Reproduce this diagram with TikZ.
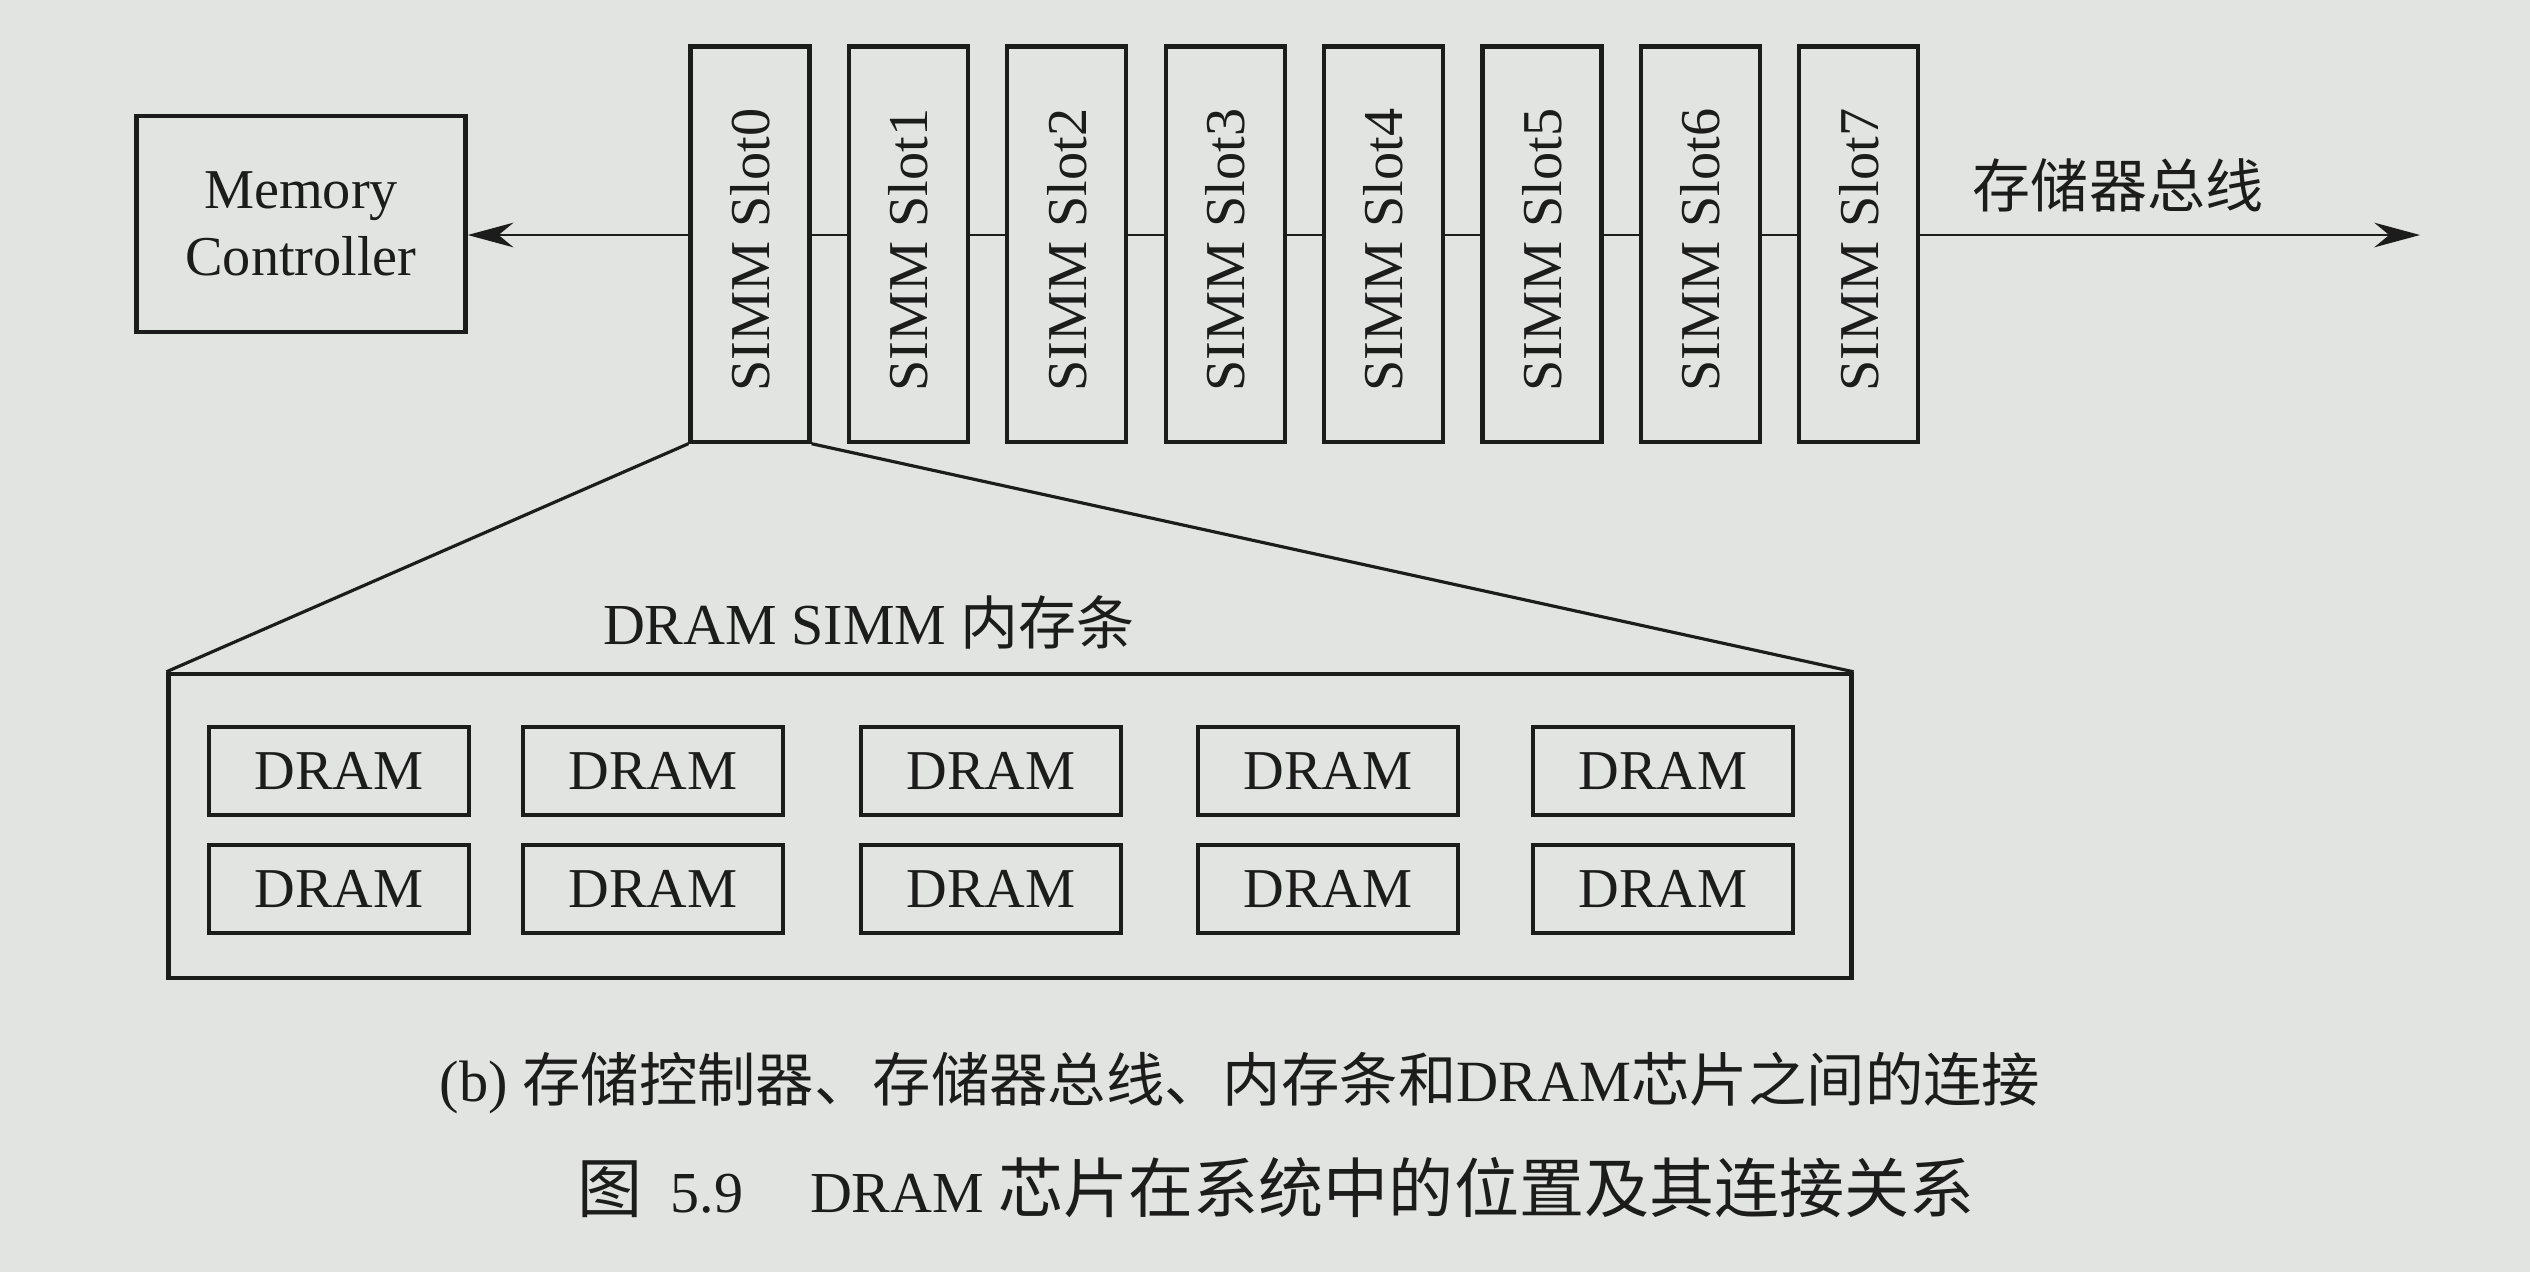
\documentclass[tikz,border=0pt]{standalone}
\usepackage{fontspec}
\setmainfont{Liberation Serif}
\newfontfamily\cjk{Noto Sans CJK SC}
\usetikzlibrary{arrows.meta}
\definecolor{paper}{RGB}{226,228,225}
\definecolor{ink}{RGB}{28,28,28}
\begin{document}
\begin{tikzpicture}[x=0.01cm,y=-0.01cm,
  box/.style={draw=ink,line width=1.2pt,inner sep=0pt,text=ink,font=\fontsize{16}{19}\selectfont},
  slotbox/.style={box,minimum width=1.19cm,minimum height=3.95cm},
  drambox/.style={box,minimum width=2.6cm,minimum height=0.88cm},
  bus/.style={draw=ink,line width=0.8pt},
  arr/.style={-{Stealth[length=13pt,width=7pt]}},
  lbl/.style={text=ink,inner sep=0pt}]
\fill[paper] (0,0) rectangle (2530,1272);
\useasboundingbox (0,0) rectangle (2530,1272);
% memory controller
\node[box,minimum width=3.29cm,minimum height=2.16cm,align=center] (mc) at (301,224) {Memory\\Controller};
% slots
\foreach \i in {0,...,7}{
  \node[slotbox] (s\i) at ({750+158.4*\i},244) {};
  \node[lbl,rotate=90,font=\fontsize{16}{19}\selectfont] (t\i) at ({750+158.4*\i},250) {SIMM Slot\i};
}
% bus
\coordinate (bus) at (0,235);
\coordinate (busend) at (2420,235);
\draw[bus,arr] (s0.west |- bus) -- (mc.east |- bus);
\foreach \i/\j in {0/1,1/2,2/3,3/4,4/5,5/6,6/7}{
  \draw[bus] (s\i.east |- bus) -- (s\j.west |- bus);
}
\draw[bus,arr] (s7.east |- bus) -- (busend);
\node[lbl,font=\cjk\fontsize{16.5}{18}\selectfont] (buslabel) at (2118,185) {存储器总线};
% SIMM module
\node[box,minimum width=16.82cm,minimum height=3.04cm] (simm) at (1010,826) {};
\draw[ink,line width=0.9pt] (s0.south west) -- (simm.north west);
\draw[ink,line width=0.9pt] (s0.south east) -- (simm.north east);
\node[lbl,font=\fontsize{16.5}{19}\selectfont] (simmlabel) at (869,622) {DRAM SIMM {\cjk 内存条}};
% DRAM chips
\foreach \x [count=\k] in {339,653,991,1328,1663}{
  \node[drambox] (da\k) at (\x,771) {DRAM};
  \node[drambox] (db\k) at (\x,889) {DRAM};
}
% captions
\node[lbl,font=\fontsize{16.6}{20}\selectfont] (cap1) at (1240,1083) {(b) {\cjk 存储控制器、存储器总线、内存条和}DRAM{\cjk 芯片之间的连接}};
\node[lbl,font=\fontsize{16.5}{20}\selectfont] (cap2) at (1276,1188) {{\cjk\fontsize{18.5}{20}\selectfont 图}\hspace{8pt}5.9\hspace{19pt}DRAM {\cjk\fontsize{18.5}{20}\selectfont 芯片在系统中的位置及其连接关系}};
\end{tikzpicture}
\end{document}
